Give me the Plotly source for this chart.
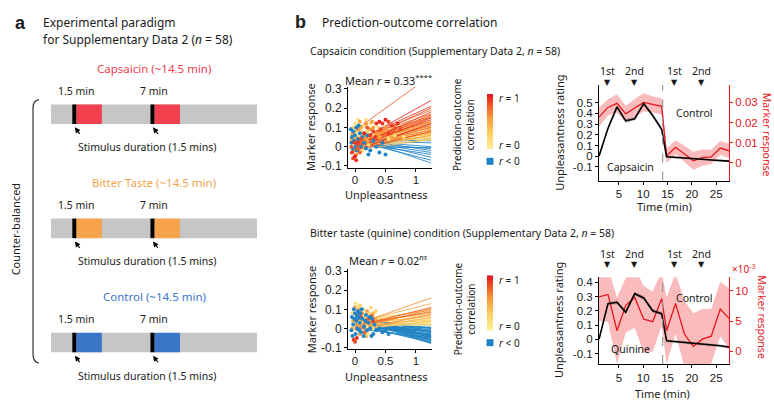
import numpy as np
import plotly.graph_objects as go
from plotly.colors import sample_colorscale

W, H = 774, 407
def px(v): return v / W
def py(v): return 1 - v / H

TXT = "Noto Sans"
NUM = "Liberation Sans"
INK = "#1a1a1a"
RED = "#E8141C"
BLUE = "#1F83C5"

# ---------------- Panel a : paradigm ----------------
conditions = ["Capsaicin (~14.5 min)", "Bitter Taste (~14.5 min)", "Control (~14.5 min)"]
condition_colors = ["#F2404F", "#F6A34C", "#3C76C9"]
session_length = 14.5
stim_onsets = [1.5, 7.0]
stim_onset_labels = ["1.5 min", "7 min"]
stim_mark_len = 0.28
stim_block_len = 1.8

# ---------------- Panel b : per-subject fits (r, fit at x=0, fit at x=1.25) ----------------
fit_x_end = 1.25
cap_r = [0.95,0.8,0.9,0.85,0.75,0.9,0.7,0.8,0.65,0.9,0.6,0.85,0.55,0.7,0.95,0.5,0.6,0.45,0.8,0.4,
         0.35,0.65,0.3,0.5,0.25,0.9,0.2,0.45,0.15,0.35,0.1,0.25,0.05,0.3,0.15,0.08,0.55,0.2,0.12,0.4,
         0.7,0.18,0.6,0.3,0.85,0.5,-0.1,-0.2,-0.15,-0.3,-0.25,-0.35,-0.4,-0.3,-0.45,-0.5,-0.4,-0.1]
cap_fit0 = [0.02,0.085,0.03,0.02,0.03,0.0,0.04,0.01,0.03,-0.01,0.04,0.0,0.03,0.02,-0.02,0.05,0.01,0.03,0.0,0.04,
            0.02,-0.01,0.05,0.01,0.04,-0.02,0.03,0.0,0.05,0.02,0.04,0.01,0.04,0.0,0.02,0.03,-0.01,0.0,0.06,-0.02,
            0.0,0.05,0.02,0.04,0.01,0.0,0.05,0.04,0.03,0.03,0.02,0.04,0.03,0.02,0.04,0.03,0.05,0.0]
cap_fit_end = [0.24,0.37,0.21,0.20,0.19,0.18,0.17,0.165,0.16,0.15,0.15,0.14,0.14,0.13,0.12,0.13,0.12,0.11,0.10,0.105,
               0.10,0.09,0.095,0.085,0.08,0.08,0.075,0.07,0.07,0.065,0.06,0.055,0.05,0.05,0.045,0.04,0.06,0.035,0.1,0.04,
               0.11,0.09,0.125,0.12,0.155,0.075,0.04,0.03,0.02,0.0,-0.01,-0.02,-0.03,-0.04,-0.055,-0.07,-0.085,-0.005]

quin_r = [0.6,0.5,0.8,0.45,0.7,0.35,0.55,0.3,0.65,0.25,0.4,0.2,0.5,0.15,0.3,0.1,0.25,0.05,0.2,0.08,
          0.12,0.04,0.35,0.75,-0.05,-0.1,-0.15,-0.2,-0.1,-0.25,-0.2,-0.3,-0.15,-0.35,-0.25,-0.4,-0.3,-0.45,
          -0.35,-0.5,-0.4,-0.55,-0.45,-0.6,-0.5,-0.3,-0.2,-0.1,-0.15,-0.25,-0.4,-0.35,-0.05,-0.5,-0.3,-0.2,-0.6,-0.45]
quin_fit0 = [0.02,0.03,0.01,0.02,0.0,0.04,0.01,0.03,-0.01,0.04,0.02,0.03,0.0,0.04,0.01,0.03,0.0,0.04,0.02,0.01,
             0.03,0.02,-0.01,0.02,0.03,0.04,0.03,0.04,0.02,0.05,0.03,0.04,0.02,0.05,0.03,0.04,0.02,0.05,
             0.03,0.04,0.06,0.03,0.05,0.04,0.02,0.06,0.01,0.0,0.05,0.06,0.01,0.07,0.01,0.07,0.0,0.07,0.05,0.02]
quin_fit_end = [0.16,0.13,0.11,0.105,0.10,0.095,0.09,0.08,0.075,0.07,0.065,0.06,0.055,0.05,0.045,0.04,0.035,0.035,0.03,0.025,
                0.02,0.015,0.04,0.085,0.02,0.015,0.005,0.0,-0.005,-0.01,-0.015,-0.02,-0.02,-0.025,-0.03,-0.035,-0.035,-0.04,
                -0.045,-0.05,-0.05,-0.055,-0.06,-0.065,-0.07,-0.075,-0.03,-0.01,0.0,-0.04,-0.06,-0.045,0.005,-0.065,-0.05,-0.02,-0.08,-0.075]

# ---------------- Panel b : individual observations ----------------
cap_pt_x = [0.0,0.05,-0.03,0.1,0.15,0.2,0.25,0.3,-0.05,0.07,0.12,0.22,0.38,0.55,0.65,0.8,0.02,0.18,
            0.0,-0.04,0.05,0.1,0.15,0.2,0.25,0.3,0.35,-0.02,0.02,0.12,0.4,0.45,0.6,0.18,0.28,0.08,0.5,-0.06,
            -0.05,-0.03,-0.06,0.0,0.02,-0.04,0.05,0.08,0.1,0.12,-0.02,0.03,0.15,0.18,0.25,0.3,0.2,0.35,-0.07,0.06,0.22,0.4,0.45,0.5,0.01,
            0.35,0.4,0.45,0.5,0.55,0.6,0.65,0.7,0.3,0.2,0.25,-0.05,-0.03,0.0,0.02,-0.06,0.05,0.1,0.15,0.08,0.42,0.55,0.62,0.48,0.33,0.75,-0.01,0.04]
cap_pt_y = [0.12,0.14,0.1,0.08,0.11,0.08,0.12,0.06,0.06,0.05,-0.02,0.01,0.1,0.04,0.06,0.05,0.08,0.14,
            0.04,0.07,0.09,0.1,0.05,0.03,0.09,0.1,0.07,-0.02,-0.04,0.0,0.05,0.08,0.05,0.12,0.13,0.13,0.1,0.04,
            0.05,0.08,0.02,0.06,0.1,-0.01,0.04,0.07,0.0,0.05,0.03,-0.02,0.02,-0.01,-0.02,0.03,0.06,0.0,0.09,0.11,-0.04,-0.03,0.02,-0.04,0.0,
            0.12,0.13,0.12,0.14,0.13,0.11,0.1,0.12,0.08,0.1,0.06,-0.03,-0.06,-0.05,-0.07,0.0,0.02,0.04,0.07,-0.03,0.09,0.07,0.08,0.06,0.05,0.09,0.02,-0.01]
cap_pt_r = [0.15,0.1,0.2,0.15,0.1,0.2,0.15,0.1,0.2,0.25,0.15,0.2,0.15,0.1,0.2,0.15,0.25,0.1,
            0.5,0.55,0.6,0.5,0.45,0.55,0.6,0.5,0.55,0.6,0.5,0.45,0.5,0.55,0.5,0.6,0.55,0.5,0.6,0.5,
            -0.3,-0.2,-0.4,-0.3,-0.1,-0.5,-0.2,-0.35,-0.4,-0.25,-0.15,-0.45,-0.3,-0.4,-0.35,-0.2,-0.15,-0.3,-0.2,-0.1,-0.45,-0.5,-0.2,-0.4,-0.3,
            0.9,0.95,0.9,0.95,0.85,0.9,0.8,0.9,0.85,0.8,0.9,0.9,0.85,0.95,0.9,0.8,0.9,0.85,0.95,0.8,0.85,0.9,0.8,0.75,0.9,0.85,0.9,0.8]

quin_pt_x = [-0.02,0.0,0.03,0.05,0.1,0.22,0.28,0.3,0.05,0.16,
             -0.03,0.0,0.02,0.06,0.08,0.12,0.15,0.2,0.25,0.3,0.33,-0.05,0.18,
             -0.04,0.01,0.04,0.07,0.1,0.13,0.16,0.19,0.23,0.26,0.29,0.34,0.08,-0.02,0.21,
             -0.05,-0.03,-0.06,0.0,0.02,-0.02,0.04,0.06,0.08,0.1,0.12,0.15,0.18,0.2,0.22,0.25,0.28,0.3,0.32,0.35,
             -0.04,0.01,0.05,0.09,0.14,0.17,0.24,0.27,0.4,0.45,0.5,0.55,0.03,0.07,0.11,-0.01]
quin_pt_y = [-0.06,-0.07,-0.05,0.07,0.06,0.05,0.07,0.04,0.1,-0.02,
             0.04,0.11,0.0,0.02,-0.03,0.08,0.03,0.09,0.02,0.08,0.05,0.0,-0.04,
             0.08,0.13,0.11,0.09,0.03,0.1,0.06,0.01,0.08,0.11,0.0,0.09,0.12,0.02,-0.03,
             0.06,0.02,-0.01,0.08,0.04,0.1,0.0,0.06,0.03,-0.02,0.05,0.01,0.07,-0.01,0.03,0.0,0.05,-0.03,0.02,-0.01,
             -0.04,-0.03,0.09,0.08,-0.04,0.04,0.06,-0.04,0.0,-0.02,-0.01,-0.03,0.07,-0.01,0.1,0.05]
quin_pt_r = [0.9,0.85,0.9,0.8,0.85,0.8,0.85,0.9,0.85,0.8,
             0.5,0.55,0.6,0.5,0.55,0.5,0.6,0.55,0.5,0.45,0.55,0.45,0.5,
             0.15,0.1,0.2,0.15,0.1,0.2,0.15,0.1,0.2,0.15,0.1,0.2,0.25,0.2,0.15,
             -0.3,-0.4,-0.2,-0.3,-0.5,-0.2,-0.35,-0.4,-0.3,-0.45,-0.25,-0.4,-0.3,-0.5,-0.35,-0.45,-0.3,-0.4,-0.5,-0.35,
             -0.3,-0.4,-0.2,-0.35,-0.45,-0.3,-0.25,-0.4,-0.5,-0.4,-0.3,-0.45,-0.3,-0.25,-0.2,-0.4]

# ---------------- Panel b : time courses ----------------
time_min = [0.9, 2.75, 4.6, 6.4, 8.25, 10.1, 11.95, 13.8, 14.8, 16.65, 18.5, 20.3, 22.15, 24.0, 25.85, 27.7]
condition_switch = 14.0
stim_mark_times = [2.6, 8.2, 16.5, 22.0]
stim_mark_labels = ["1st", "2nd", "1st", "2nd"]

cap_unpl = [0.0, 0.26, 0.46, 0.33, 0.35, 0.49, 0.38, 0.25, -0.005, -0.01, -0.012, -0.02, -0.028, -0.035, -0.04, -0.046]
cap_unpl_se = [0.01, 0.02, 0.02, 0.02, 0.02, 0.02, 0.02, 0.02, 0.01, 0.01, 0.01, 0.01, 0.01, 0.01, 0.01, 0.01]
cap_marker = [0.0227, 0.0275, 0.0295, 0.0243, 0.0272, 0.030, 0.029, 0.028, 0.0035, 0.0078, 0.0045, 0.0011, 0.0027, 0.003, 0.0074, 0.006]
cap_marker_se = [0.0048, 0.004, 0.0045, 0.004, 0.0045, 0.0045, 0.004, 0.004, 0.0035, 0.0035, 0.004, 0.0045, 0.004, 0.0035, 0.0035, 0.0035]

quin_unpl = [0.0, 0.25, 0.26, 0.19, 0.32, 0.29, 0.20, 0.18, -0.01, -0.015, -0.02, -0.025, -0.035, -0.04, -0.045, -0.055]
quin_unpl_se = [0.01, 0.015, 0.015, 0.015, 0.015, 0.015, 0.015, 0.015, 0.01, 0.01, 0.01, 0.01, 0.01, 0.01, 0.01, 0.01]
quin_marker_e3 = [9.0, 9.4, 3.4, 7.6, 8.9, 5.3, 4.9, 8.7, 3.4, 7.9, 2.8, 0.8, 2.0, 2.5, 7.0, 5.4]
quin_marker_se_e3 = [4.0, 4.5, 5.5, 4.5, 5.0, 5.5, 5.0, 4.5, 5.5, 5.0, 5.5, 5.5, 5.0, 4.5, 4.5, 5.0]

# ---------------- colour scale for r ----------------
pos_scale = [[0.0, "rgb(255,238,150)"], [0.3, "rgb(253,205,95)"], [0.55, "rgb(249,158,58)"],
             [0.8, "rgb(239,90,40)"], [1.0, "rgb(226,20,28)"]]
def r_color(r):
    if r < 0:
        return BLUE
    return sample_colorscale(pos_scale, [min(max(r, 0), 1)])[0]

fig = go.Figure()

# ---------------- panel a drawing ----------------
bar_half = 0.0855
shapes = []
annotations = []
def ann(text, x, y, size=11, color=INK, xanchor="center", yanchor="middle",
        xref="paper", yref="paper", angle=0, family=TXT, **kw):
    annotations.append(dict(text=text, x=x, y=y, xref=xref, yref=yref, xanchor=xanchor,
                            yanchor=yanchor, showarrow=False, textangle=angle,
                            font=dict(family=family, size=size, color=color), **kw))

for i, (cond, col) in enumerate(zip(conditions, condition_colors)):
    shapes.append(dict(type="rect", xref="x", yref="y", x0=0, x1=session_length,
                       y0=i - bar_half, y1=i + bar_half, fillcolor="#C6C6C6", line_width=0))
    for on, lab in zip(stim_onsets, stim_onset_labels):
        shapes.append(dict(type="rect", xref="x", yref="y", x0=on + stim_mark_len,
                           x1=on + stim_mark_len + stim_block_len, y0=i - bar_half, y1=i + bar_half,
                           fillcolor=col, line_width=0))
        shapes.append(dict(type="rect", xref="x", yref="y", x0=on, x1=on + stim_mark_len,
                           y0=i - bar_half, y1=i + bar_half, fillcolor="black", line_width=0))
        ann(lab, on + stim_mark_len / 2, i - 0.205, size=10.5, xref="x", yref="y", xshift=2)
        annotations.append(dict(x=on + 0.18, y=i + 0.115, xref="x", yref="y", ax=6, ay=8,
                                showarrow=True, arrowhead=2, arrowsize=1, arrowwidth=1.1,
                                arrowcolor="black", text=""))
    ann(cond, session_length / 2, i - 0.40, size=11.5, color=col, xref="x", yref="y")
    ann("Stimulus duration (1.5 mins)", 6.75, i + 0.29, size=10.5, xref="x", yref="y")

ann("<b>a</b>", px(20), py(18), size=18, family=NUM)
ann("Experimental paradigm", px(41), py(18), size=12, xanchor="left")
ann("for Supplementary Data 2 (<i>n</i> = 58)", px(41), py(35), size=12, xanchor="left")
ann("Counter-balanced", px(15), py(230), size=11, angle=-90)
shapes.append(dict(type="path", xref="paper", yref="paper", line=dict(color="#333", width=1.2),
                   path=f"M {px(39)},{py(97)} Q {px(33)},{py(98)} {px(33)},{py(106)} "
                        f"L {px(33)},{py(358)} Q {px(33)},{py(366)} {px(39)},{py(367)}"))

# ---------------- panel b scatter ----------------
def add_fits(r_list, f0, fend, xa, ya):
    order = sorted(range(len(r_list)), key=lambda k: r_list[k])
    for k in order:
        fig.add_trace(go.Scatter(x=[0, fit_x_end], y=[f0[k], fend[k]], mode="lines",
                                 line=dict(color=r_color(r_list[k]), width=1.0), opacity=0.85,
                                 xaxis=xa, yaxis=ya, showlegend=False, hoverinfo="skip"))

def add_points(xs, ys, rs, xa, ya):
    fig.add_trace(go.Scatter(x=xs, y=ys, mode="markers",
                             marker=dict(size=4, color=[r_color(r) for r in rs], line=dict(width=0)),
                             xaxis=xa, yaxis=ya, showlegend=False, hoverinfo="skip", cliponaxis=False))

add_fits(cap_r, cap_fit0, cap_fit_end, "x2", "y2")
add_points(cap_pt_x, cap_pt_y, cap_pt_r, "x2", "y2")
add_fits(quin_r, quin_fit0, quin_fit_end, "x3", "y3")
add_points(quin_pt_x, quin_pt_y, quin_pt_r, "x3", "y3")

# ---------------- colour legends ----------------
levels = list(np.linspace(0, 1, 41))
for xa, ya in (("x8", "y8"), ("x9", "y9")):
    fig.add_trace(go.Heatmap(x=[0], y=levels, z=[[v] for v in levels], colorscale=pos_scale,
                             zmin=0, zmax=1, showscale=False, xaxis=xa, yaxis=ya, hoverinfo="skip"))
    fig.add_trace(go.Scatter(x=[0], y=[-0.24], mode="markers",
                             marker=dict(symbol="square", size=7, color=BLUE),
                             xaxis=xa, yaxis=ya, showlegend=False, hoverinfo="skip", cliponaxis=False))
    ann("<i>r</i> = 1", px(497), 0.93, size=10, xanchor="left", yref=ya)
    ann("<i>r</i> = 0", px(497), 0.07, size=10, xanchor="left", yref=ya)
    ann("<i>r</i> < 0", px(497), -0.24, size=10, xanchor="left", yref=ya)

ann("Prediction-outcome<br>correlation", px(464), py(123), size=10, angle=-90)
ann("Prediction-outcome<br>correlation", px(464), py(312), size=10, angle=-90)

# ---------------- time courses ----------------
def band(xs, m, se, xa, ya, color):
    up = [a + b for a, b in zip(m, se)]
    lo = [a - b for a, b in zip(m, se)]
    fig.add_trace(go.Scatter(x=list(xs) + list(xs)[::-1], y=up + lo[::-1], fill="toself",
                             fillcolor=color, line=dict(width=0), mode="lines",
                             xaxis=xa, yaxis=ya, showlegend=False, hoverinfo="skip"))

def line(xs, m, xa, ya, color, width):
    fig.add_trace(go.Scatter(x=xs, y=m, mode="lines", line=dict(color=color, width=width),
                             xaxis=xa, yaxis=ya, showlegend=False, hoverinfo="skip"))

PINK = "rgba(240,75,80,0.38)"
GREYB = "rgba(60,60,60,0.22)"
band(time_min, cap_marker, cap_marker_se, "x4", "y4", PINK)
line(time_min, cap_marker, "x4", "y4", RED, 1.3)
band(time_min, cap_unpl, cap_unpl_se, "x4", "y5", GREYB)
line(time_min, cap_unpl, "x4", "y5", "black", 1.6)

band(time_min, quin_marker_e3, quin_marker_se_e3, "x6", "y6", PINK)
line(time_min, quin_marker_e3, "x6", "y6", RED, 1.3)
band(time_min, quin_unpl, quin_unpl_se, "x6", "y7", GREYB)
line(time_min, quin_unpl, "x6", "y7", "black", 1.6)

for xa, ya in (("x4", "y4"), ("x6", "y6")):
    shapes.append(dict(type="line", xref=xa, yref=ya + " domain", x0=condition_switch, x1=condition_switch,
                       y0=0, y1=1, line=dict(color="#9a9a9a", width=1.2, dash="dash")))

for t, lab in zip(stim_mark_times, stim_mark_labels):
    for tri_y, lab_y in ((79, 68), (266.5, 255)):
        ann("▼", t, py(tri_y), size=8, xref="x4", family="DejaVu Sans")
        ann(lab, t, py(lab_y), size=10.5, xref="x4")

ann("Capsaicin", 7.3, -0.1, size=10.5, xref="x4", yref="y5")
ann("Control", 20.5, 0.40, size=10.5, xref="x4", yref="y5")
ann("Quinine", 7.3, -0.07, size=10.5, xref="x6", yref="y7")
ann("Control", 20.5, 0.29, size=10.5, xref="x6", yref="y7")

# titles
ann("<b>b</b>", px(300), py(17), size=18, family=NUM)
ann("Prediction-outcome correlation", px(320), py(18), size=12, xanchor="left")
ann("Capsaicin condition (Supplementary Data 2, <i>n</i> = 58)", px(308), py(47), size=10.5, xanchor="left")
ann("Bitter taste (quinine) condition (Supplementary Data 2, <i>n</i> = 58)", px(308), py(234), size=10.5, xanchor="left")
ann("Mean <i>r</i> = 0.33<sup>****</sup>", px(388), py(77), size=11)
ann("Mean <i>r</i> = 0.02<sup><i>ns</i></sup>", px(388), py(261), size=11)
for yc, yl in ((125, 194), (312, 381)):
    ann("Marker response", px(311), py(yc), size=11, angle=-90)
    ann("Unpleasantness", px(386), py(yl), size=11)
ann("Unpleasantness rating", px(560), py(131), size=11, angle=-90)
ann("Unpleasantness rating", px(558), py(323), size=11, angle=-90)
ann("Marker response", px(767), py(133), size=10.5, angle=90, color=RED)
ann("Marker response", px(762), py(320), size=10.5, angle=90, color=RED)
ann("Time (min)", px(664), py(207), size=11)
ann("Time (min)", px(662), py(398), size=11)
ann("×10<sup>-3</sup>", px(743), py(271), size=10, color=RED)

# ---------------- axes ----------------
def base_axis(**kw):
    d = dict(showline=True, linecolor="black", linewidth=1, ticks="outside", ticklen=3,
             tickcolor="black", showgrid=False, zeroline=False,
             tickfont=dict(family=NUM, size=12, color=INK))
    d.update(kw)
    return d

hidden = dict(visible=False, showgrid=False, zeroline=False, fixedrange=True)
sc_x = dict(range=[-0.115, 1.255], tickvals=[0, 0.5, 1], ticktext=["0", "0.5", "1"],
            tickfont=dict(family=NUM, size=11.5, color=INK), ticklabelstandoff=-2)
sc_y = dict(range=[-0.11, 0.31], tickvals=[-0.1, 0, 0.1, 0.2, 0.3], ticktext=["-0.1", "0", "0.1", "0.2", "0.3"])
tc_x = dict(range=[0.9, 27.65], tickvals=[5, 10, 15, 20, 25], tickfont=dict(family=NUM, size=11.5, color=INK))
red_axis = dict(linecolor=RED, tickcolor=RED, tickfont=dict(family=NUM, size=11.5, color=RED))

fig.update_layout(
    width=W, height=H, margin=dict(l=0, r=0, t=0, b=0),
    paper_bgcolor="white", plot_bgcolor="white", showlegend=False,
    xaxis=dict(domain=[0, px(260)], range=[-51 / 14.207, 209 / 14.207], anchor="y", **hidden),
    yaxis=dict(domain=[0, 1], range=[2.521, -0.957], anchor="x", **hidden),
    xaxis2=base_axis(domain=[px(348), px(431.5)], anchor="y2", **sc_x),
    yaxis2=base_axis(domain=[py(167), py(84)], anchor="x2", **sc_y),
    xaxis3=base_axis(domain=[px(348), px(431.5)], anchor="y3", **sc_x),
    yaxis3=base_axis(domain=[py(353), py(271)], anchor="x3", **sc_y),
    xaxis4=base_axis(domain=[px(599), px(729)], anchor="y4", **tc_x),
    yaxis4=base_axis(domain=[py(180), py(82)], anchor="x4", side="right", range=[-0.0087, 0.0386],
                     tickvals=[0, 0.01, 0.02, 0.03], ticktext=["0", "0.01", "0.02", "0.03"], **red_axis),
    yaxis5=base_axis(overlaying="y4", anchor="x4", side="left", range=[-0.227, 0.664],
                     tickvals=[-0.1, 0, 0.1, 0.2, 0.3, 0.4, 0.5],
                     ticktext=["-0.1", "0", "0.1", "0.2", "0.3", "0.4", "0.5"],
                     tickfont=dict(family=NUM, size=11.5, color=INK)),
    xaxis6=base_axis(domain=[px(599), px(729)], anchor="y6", **tc_x),
    yaxis6=base_axis(domain=[py(368), py(279)], anchor="x6", side="right", range=[-2.1, 12.26],
                     tickvals=[0, 5, 10], ticktext=["0", "5", "10"], **red_axis),
    yaxis7=base_axis(overlaying="y6", anchor="x6", side="left", range=[-0.173, 0.436],
                     tickvals=[-0.1, 0, 0.1, 0.2, 0.3, 0.4],
                     ticktext=["-0.1", "0", "0.1", "0.2", "0.3", "0.4"],
                     tickfont=dict(family=NUM, size=11.5, color=INK)),
    xaxis8=dict(domain=[px(487), px(493)], range=[-0.5, 0.5], anchor="y8", **hidden),
    yaxis8=dict(domain=[py(166), py(90)], range=[-0.345, 1.036], anchor="x8", **hidden),
    xaxis9=dict(domain=[px(487), px(493)], range=[-0.5, 0.5], anchor="y9", **hidden),
    yaxis9=dict(domain=[py(352), py(276)], range=[-0.345, 1.036], anchor="x9", **hidden),
    shapes=shapes, annotations=annotations,
)

fig.write_html("out.html")
